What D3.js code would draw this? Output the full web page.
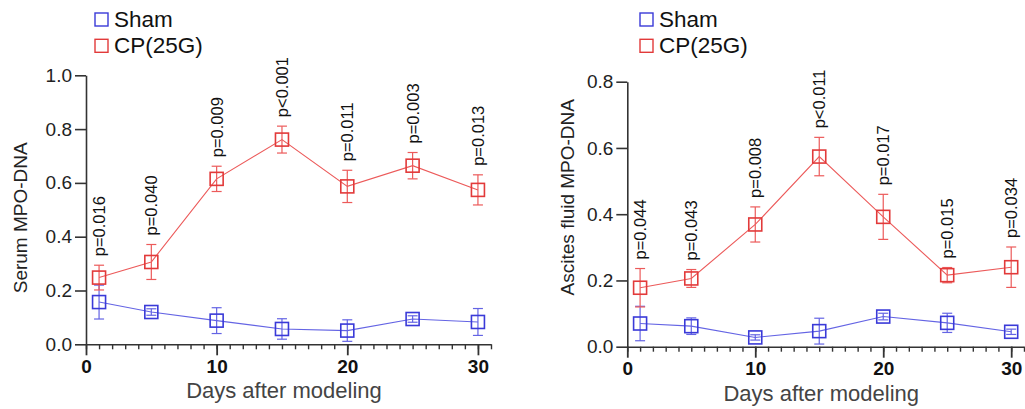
<!DOCTYPE html>
<html>
<head>
<meta charset="utf-8">
<script src="https://cdn.jsdelivr.net/npm/d3@7"></script>
<style>
  html, body { margin: 0; padding: 0; background: #fff; }
  svg { display: block; font-family: "Liberation Sans", Arial, sans-serif; }
</style>
</head>
<body>
<svg id="chart" width="1025" height="409"></svg>
<script>
// ---- data ----
const days = [1, 5, 10, 15, 20, 25, 30];
const xTicks = [0, 10, 20, 30];
const seriesNames = ["Sham", "CP(25G)"];

const serumSham    = [0.157, 0.120, 0.088, 0.057, 0.051, 0.094, 0.083];
const serumShamErr = [0.063, 0.012, 0.048, 0.038, 0.040, 0.012, 0.050];
const serumCP      = [0.248, 0.306, 0.615, 0.761, 0.587, 0.664, 0.574];
const serumCPErr   = [0.046, 0.065, 0.047, 0.050, 0.060, 0.049, 0.056];
const serumP       = ["p=0.016", "p=0.040", "p=0.009", "p<0.001", "p=0.011", "p=0.003", "p=0.013"];
const serumYTicks  = [0, 0.2, 0.4, 0.6, 0.8, 1.0];

const ascitesSham    = [0.070, 0.062, 0.028, 0.047, 0.091, 0.072, 0.045];
const ascitesShamErr = [0.052, 0.025, 0.008, 0.039, 0.010, 0.029, 0.008];
const ascitesCP      = [0.178, 0.206, 0.369, 0.574, 0.392, 0.216, 0.240];
const ascitesCPErr   = [0.058, 0.027, 0.053, 0.058, 0.068, 0.023, 0.061];
const ascitesP       = ["p=0.044", "p=0.043", "p=0.008", "p<0.011", "p=0.017", "p=0.015", "p=0.034"];
const ascitesYTicks  = [0, 0.2, 0.4, 0.6, 0.8];

// ---- styles ----
const blue = "#3a3ad8", blueLine = "#6464e4";
const red = "#e23a3a", redLine = "#ec5a5a";
const axisColor = "#333";

const svg = d3.select("#chart");

function panel(cfg) {
  const g = svg.append("g");
  const x = d3.scaleLinear().domain([0, 31]).range([cfg.x0, cfg.x1]);
  const y = d3.scaleLinear().domain([0, cfg.yMax]).range([cfg.yBottom, cfg.yTop]);

  // y axis
  const yAxis = g.append("g").attr("transform", `translate(${cfg.x0},0)`)
    .call(d3.axisLeft(y).tickValues(cfg.yTicks).tickFormat(d3.format(".1f")).tickSize(11).tickSizeOuter(0).tickPadding(3));
  yAxis.select(".domain").attr("stroke", axisColor).attr("stroke-width", 1.6);
  yAxis.selectAll(".tick line").attr("stroke", axisColor).attr("stroke-width", 1.6);
  yAxis.selectAll(".tick text").attr("font-size", 19).attr("fill", "#222")
    .attr("font-family", "Liberation Sans, Arial, sans-serif");

  // x axis minor ticks
  const xAxisMinor = g.append("g").attr("transform", `translate(0,${cfg.yBottom})`)
    .call(d3.axisBottom(x).tickValues(d3.range(0, 32, 1)).tickFormat("").tickSize(5).tickSizeOuter(0));
  xAxisMinor.select(".domain").attr("stroke", axisColor).attr("stroke-width", 1.6);
  xAxisMinor.selectAll(".tick line").attr("stroke", axisColor).attr("stroke-width", 1.4);
  // major ticks
  const xAxis = g.append("g").attr("transform", `translate(0,${cfg.yBottom})`)
    .call(d3.axisBottom(x).tickValues(xTicks).tickFormat(d3.format("d")).tickSize(11).tickSizeOuter(0).tickPadding(4));
  xAxis.select(".domain").remove();
  xAxis.selectAll(".tick line").attr("stroke", axisColor).attr("stroke-width", 1.8);
  xAxis.selectAll(".tick text").attr("font-size", 19).attr("font-weight", "bold").attr("fill", "#111")
    .attr("font-family", "Liberation Sans, Arial, sans-serif");

  // axis titles
  g.append("text").attr("x", x(15) + 2).attr("y", cfg.yBottom + 54)
    .attr("text-anchor", "middle").attr("font-size", 22).attr("fill", "#444")
    .text("Days after modeling");
  g.append("text").attr("transform", `translate(${cfg.yTitleX},${(cfg.yTop + cfg.yBottom) / 2 + cfg.yTitleShift}) rotate(-90)`)
    .attr("text-anchor", "middle").attr("dominant-baseline", "central").attr("font-size", 19).attr("fill", "#222")
    .text(cfg.yTitle);

  const series = [
    { vals: cfg.sham, err: cfg.shamErr, color: blue, line: blueLine },
    { vals: cfg.cp, err: cfg.cpErr, color: red, line: redLine }
  ];
  const line = d3.line().x((d, i) => x(days[i])).y(d => y(d));
  series.forEach(s => {
    g.append("path").datum(s.vals).attr("d", line).attr("fill", "none")
      .attr("stroke", s.line).attr("stroke-width", 1.1);
    const eb = g.append("g");
    s.vals.forEach((v, i) => {
      const cx = x(days[i]);
      const t = y(v + s.err[i]), b = y(v - s.err[i]);
      eb.append("line").attr("x1", cx).attr("x2", cx).attr("y1", t).attr("y2", b)
        .attr("stroke", s.line).attr("stroke-width", 1.2);
      [t, b].forEach(yy => eb.append("line").attr("x1", cx - 5).attr("x2", cx + 5).attr("y1", yy).attr("y2", yy)
        .attr("stroke", s.line).attr("stroke-width", 1.2));
    });
    g.append("g").selectAll("rect").data(s.vals).join("rect")
      .attr("x", (d, i) => x(days[i]) - 6.5).attr("y", d => y(d) - 6.5)
      .attr("width", 13).attr("height", 13).attr("fill", "none")
      .attr("stroke", s.color).attr("stroke-width", 1.6);
  });

  // p labels
  g.append("g").selectAll("text").data(cfg.p).join("text")
    .attr("transform", (d, i) => `translate(${x(days[i]) + 6},${y(cfg.cp[i] + cfg.cpErr[i]) - 9}) rotate(-90)`)
    .attr("font-size", 16.5).attr("fill", "#111").text(d => d);

  // legend
  const lg = g.append("g");
  const colors = [blue, red];
  seriesNames.forEach((n, i) => {
    const yy = 19.5 + i * 26.3;
    lg.append("rect").attr("x", cfg.legendX).attr("y", yy - 6.5).attr("width", 13).attr("height", 13)
      .attr("fill", "none").attr("stroke", colors[i]).attr("stroke-width", 1.4);
    lg.append("text").attr("x", cfg.legendX + 19).attr("y", yy + 7.5)
      .attr("font-size", 22.5).attr("fill", "#111").text(n);
  });
}

panel({
  x0: 86, x1: 491, yTop: 75.3, yBottom: 344.3, yMax: 1.0, yTicks: serumYTicks,
  sham: serumSham, shamErr: serumShamErr, cp: serumCP, cpErr: serumCPErr, p: serumP,
  yTitle: "Serum MPO-DNA", yTitleX: 20, yTitleShift: 8, legendX: 95
});
panel({
  x0: 627.3, x1: 1024, yTop: 81.7, yBottom: 346.7, yMax: 0.8, yTicks: ascitesYTicks,
  sham: ascitesSham, shamErr: ascitesShamErr, cp: ascitesCP, cpErr: ascitesCPErr, p: ascitesP,
  yTitle: "Ascites fluid MPO-DNA", yTitleX: 567, yTitleShift: -17, legendX: 640
});
</script>
</body>
</html>
